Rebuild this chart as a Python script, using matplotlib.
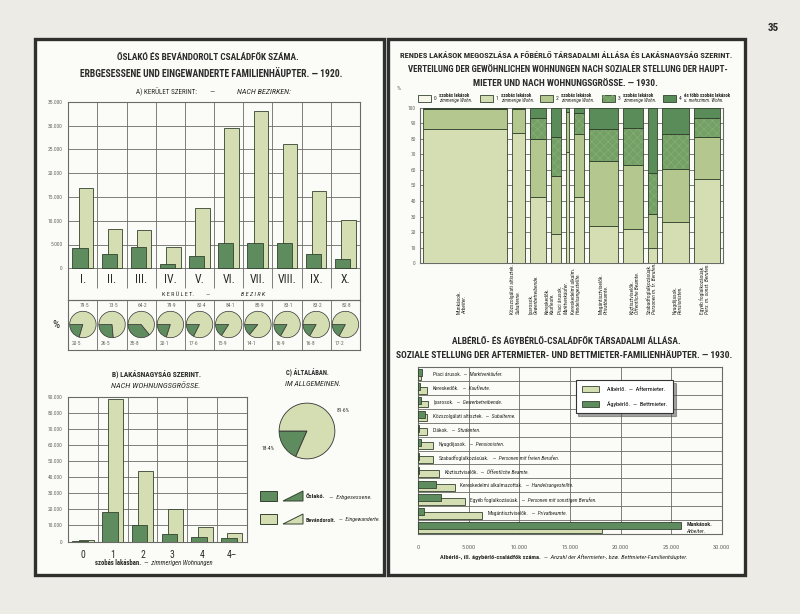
import matplotlib
matplotlib.use('Agg')
import matplotlib.pyplot as plt
import matplotlib.transforms as mtrans
from matplotlib import font_manager as fm
from matplotlib.patches import Rectangle, Polygon, Patch
import numpy as np

# ---------------- DATA ----------------
districts = ['I.', 'II.', 'III.', 'IV.', 'V.', 'VI.', 'VII.', 'VIII.', 'IX.', 'X.']
oslako_district = [4200, 3000, 4400, 1000, 2600, 5400, 5300, 5300, 3100, 2000]
bevand_district = [16800, 8300, 8000, 4400, 12700, 29400, 33000, 26200, 16200, 10200]
pct_bevand = [79.5, 73.5, 64.2, 79.9, 82.4, 84.1, 85.9, 83.1, 83.2, 82.8]
pct_oslako = [20.5, 26.5, 35.8, 20.1, 17.6, 15.9, 14.1, 16.9, 16.8, 17.2]
yticks_A = [0, 5000, 10000, 15000, 20000, 25000, 30000, 35000]

rooms = ['0', '1', '2', '3', '4', '4–']
oslako_rooms = [200, 18300, 10200, 4800, 2900, 2100]
bevand_rooms = [700, 88900, 44100, 20000, 9200, 5400]
yticks_B = [0, 10000, 20000, 30000, 40000, 50000, 60000, 70000, 80000, 90000]

total_pct = [18.4, 81.6]          # őslakó, bevándorolt

occ_hu = ['Munkások.', 'Közszolgálati altisztek.', 'Iparosok.', 'Kereskedők.', 'Piaci árusok.',
          'Kereskedelmi alkalm.', 'Magántisztviselők.', 'Köztisztviselők.', 'Szabadfoglalkozásúak.',
          'Nyugdíjasok.', 'Egyéb foglalkozásúak.']
occ_de = ['Arbeiter.', 'Subalterne.', 'Gewerbetreibende.', 'Kaufleute.', 'Marktverkäufer.',
          'Handelsangestellte.', 'Privatbeamte.', 'Öffentliche Beamte.', 'Personen m. fr. Berufen.',
          'Pensionisten.', 'Pers. m. sonst. Berufen.']
occ_share = [84, 13, 16, 10, 3, 10, 29, 20, 9, 27, 26]
room0 = [0.5, 0.3, 0.2, 0.2, 0.5, 0.2, 0.1, 0.1, 0.2, 0.3, 0.2]
room1 = [85.5, 83.2, 42.6, 18.6, 71.2, 42.6, 24.1, 22.2, 9.4, 26.5, 53.8]
room2 = [13.0, 15.5, 36.9, 37.5, 25.5, 40.1, 41.5, 41.1, 22.4, 33.8, 27.4]
room3 = [0.7, 0.7, 13.4, 25.1, 2.3, 13.5, 20.6, 23.8, 26.2, 22.4, 11.7]
room4 = [0.3, 0.3, 6.9, 18.6, 0.5, 3.6, 13.7, 12.8, 41.8, 17.0, 6.9]
room_num = ['0', '1', '2', '3', '4']
room_hu = ['szobás lakások', 'szobás lakások', 'szobás lakások', 'szobás lakások', 'és több szobás lakások']
room_de = ['zimmerige Wohn.', 'zimmerige Wohn.', 'zimmerige Wohn.', 'zimmerige Wohn.', 'u. mehrzimm. Wohn.']

sub_hu = ['Piaci árusok.', 'Kereskedők.', 'Iparosok.', 'Közszolgálati altisztek.', 'Diákok.',
          'Nyugdíjasok.', 'Szabadfoglalkozásúak.', 'Köztisztviselők.', 'Kereskedelmi alkalmazottak.',
          'Egyéb foglalkozásúak.', 'Magántisztviselők.', 'Munkások.']
sub_de = ['Marktverkäufer.', 'Kaufleute.', 'Gewerbetreibende.', 'Subalterne.', 'Studenten.',
          'Pensionisten.', 'Personen mit freien Berufen.', 'Öffentliche Beamte.', 'Handelsangestellte.',
          'Personen mit sonstigen Berufen.', 'Privatbeamte.', 'Arbeiter.']
alberlo = [300, 900, 930, 900, 900, 1500, 1500, 2030, 3600, 4600, 6330, 18150]
agyberlo = [400, 170, 230, 700, 100, 270, 70, 40, 1730, 2270, 570, 26000]
xticks_H = [0, 5000, 10000, 15000, 20000, 25000, 30000]

# ---------------- STYLE ----------------
installed = {f.name for f in fm.fontManager.ttflist}
narrow_pref = ['Liberation Sans Narrow', 'Roboto Condensed', 'Noto Sans Condensed',
               'Open Sans Condensed', 'DejaVu Sans Condensed', 'Arial Narrow']
narrow = [n for n in narrow_pref if n in installed]
cond_dejavu = any('condensed' in str(f.stretch).lower() and f.name == 'DejaVu Sans'
                  for f in fm.fontManager.ttflist)
plt.rcParams['font.family'] = narrow[:1] + ['DejaVu Sans']
if not narrow and cond_dejavu:
    plt.rcParams['font.stretch'] = 'condensed'
plt.rcParams['hatch.linewidth'] = 0.35
W, H = 800, 614
PAGE = '#ecebe6'
PAPER = '#fbfbf7'
FRAME = '#2f302e'
LIGHT = '#d4deb2'
DARK = '#5f8c5f'
EDGE = '#33432f'
GRID = '#6a6a66'
TXT = '#2a2a2a'
TICK = '#666660'
ROOM_COL = ['#f6f6ea', '#d4deb2', '#b3c78f', '#74a066', '#5a8c5a']

SMALL = []     # small annotation texts, scaled together later
FITS = []      # (texts, target width in px)


def fmt(v):
    return f"{v:,}".replace(',', '.')


def fmtp(v):
    return f"{v:.1f}".replace('.', '·')


fig = plt.figure(figsize=(8, 6.14), dpi=100)
fig.patch.set_facecolor(PAGE)


def px_axes(x0, y0, x1, y1, z=1):
    a = fig.add_axes([x0 / W, 1 - y1 / H, (x1 - x0) / W, (y1 - y0) / H], zorder=z)
    a.patch.set_alpha(0)
    return a


bg = px_axes(0, 0, W, H, z=0)
bg.set_xlim(0, W)
bg.set_ylim(H, 0)
bg.axis('off')

for (x0, y0, x1, y1) in [(34.5, 38.5, 383.5, 574.5), (388, 38.5, 745, 574.5)]:
    bg.add_patch(Rectangle((x0, y0), x1 - x0, y1 - y0, facecolor=PAPER, edgecolor=FRAME, lw=2.4))
bg.text(773, 28, '35', ha='center', va='center', fontsize=8, fontweight='bold', color=TXT)


def style_spines(ax):
    for s in ax.spines.values():
        s.set_color(GRID)
        s.set_linewidth(0.8)


def T(x, y, s, size, ax=None, small=True, fit=None, **kw):
    ax = ax if ax is not None else bg
    kw.setdefault('ha', 'center')
    kw.setdefault('va', 'center')
    kw.setdefault('color', TXT)
    t = ax.text(x, y, s, fontsize=size, clip_on=False, **kw)
    if fit is not None:
        FITS.append(([t], fit))
    elif small:
        SMALL.append(t)
    return t


def chain(ax, x, y, s1, s2, size, w1='normal', fit=None, transform=None):
    tr = transform if transform is not None else ax.transData
    t1 = ax.text(x, y, s1, fontsize=size, fontweight=w1, ha='left', va='center', color=TXT,
                 transform=tr, clip_on=False)
    t2 = ax.annotate(s2, xy=(1, 0.5), xycoords=t1, fontsize=size, style='italic', ha='left',
                     va='center', color=TXT, annotation_clip=False)
    if fit is not None:
        FITS.append(([t1, t2], fit))
    else:
        SMALL.extend([t1, t2])
    return t1, t2


# ---------------- LEFT TITLES ----------------
T(208, 58, 'ŐSLAKÓ ÉS BEVÁNDOROLT CSALÁDFŐK SZÁMA.', 7, fontweight='bold', fit=183)
T(211, 74, 'ERBGESESSENE UND EINGEWANDERTE FAMILIENHÄUPTER. — 1920.', 7, fontweight='bold', fit=263)
T(197, 92, 'A) KERÜLET SZERINT:', 5.5, ha='right', fit=62)
T(212, 92, '—', 5.5, small=False)
T(237, 92, 'NACH BEZIRKEN:', 5, ha='left', style='italic', fit=55)

# ---------------- CHART A ----------------
a_top, a_zero, a_bot = 101.7, 268.3, 300
axA = px_axes(68.3, a_top, 360, a_bot)
ext = -yticks_A[-1] * (a_bot - a_zero) / (a_zero - a_top)
axA.set_xlim(-0.5, len(districts) - 0.5)
axA.set_ylim(ext, yticks_A[-1])
xA = np.arange(len(districts))
axA.bar(xA + 0.1, bevand_district, width=0.5, color=LIGHT, edgecolor=EDGE, lw=0.6, zorder=3)
axA.bar(xA - 0.1, oslako_district, width=0.52, color=DARK, edgecolor=EDGE, lw=0.6, zorder=4)
axA.set_yticks(yticks_A)
axA.set_yticklabels([fmt(v) for v in yticks_A])
axA.tick_params(axis='y', length=0, labelsize=4, labelcolor=TICK, pad=4)
axA.set_xticks([])
for v in yticks_A:
    axA.axhline(v, color=GRID, lw=0.6, zorder=1)
axA.vlines(xA[:-1] + 0.5, ext * 0.62, yticks_A[-1], color=GRID, lw=0.6, zorder=1)
for i, d in enumerate(districts):
    T(i, ext * 0.36, d, 8.5, ax=axA, small=False)
style_spines(axA)
T(178, 294.5, 'K E R Ü L E T.', 4.4, small=False)
T(208, 294.5, '—', 4.4, small=False)
T(253, 294.5, 'B E Z I R K', 4.4, style='italic', small=False)

# pie table
axP = px_axes(68.3, 300, 360, 349.5)
axP.set_xlim(0, len(districts))
axP.set_ylim(1, 0)
axP.set_xticks([])
axP.set_yticks([])
axP.vlines(np.arange(1, len(districts)), 0, 1, color=GRID, lw=0.6)
style_spines(axP)
for i in range(len(districts)):
    T(i + 0.55, 0.11, fmtp(pct_bevand[i]), 4, ax=axP, small=False, color=TICK)
    T(i + 0.12, 0.87, fmtp(pct_oslako[i]), 4, ax=axP, small=False, color=TICK, ha='left')
T(56, 325, '%', 8, small=False)
cw = (360 - 68.3) / len(districts)
for i in range(len(districts)):
    cx, cy, r = 68.3 + cw * (i + 0.5), 324.5, 14
    ap = px_axes(cx - r, cy - r, cx + r, cy + r, z=2)
    ap.pie([pct_oslako[i], pct_bevand[i]], colors=[DARK, LIGHT], startangle=180,
           counterclock=True, wedgeprops=dict(edgecolor='#333', linewidth=0.5))
    ap.set_xlim(-1.06, 1.06)
    ap.set_ylim(-1.06, 1.06)

# ---------------- CHART B ----------------
T(157, 375, 'B) LAKÁSNAGYSÁG SZERINT.', 6.5, fontweight='bold', fit=89)
T(156, 386, 'NACH WOHNUNGSGRÖSSE.', 5.5, style='italic', fit=90)
axB = px_axes(68.3, 397, 246.7, 541.5)
xB = np.arange(len(rooms))
axB.set_xlim(-0.5, len(rooms) - 0.5)
axB.set_ylim(0, yticks_B[-1])
axB.bar(xB + 0.1, bevand_rooms, width=0.5, color=LIGHT, edgecolor=EDGE, lw=0.6, zorder=3)
axB.bar(xB - 0.1, oslako_rooms, width=0.52, color=DARK, edgecolor=EDGE, lw=0.6, zorder=4)
for v in yticks_B:
    axB.axhline(v, color=GRID, lw=0.6, zorder=1)
axB.vlines(xB[:-1] + 0.5, 0, yticks_B[-1], color=GRID, lw=0.6, zorder=1)
axB.set_yticks(yticks_B)
axB.set_yticklabels([fmt(v) for v in yticks_B])
axB.tick_params(axis='y', length=0, labelsize=4, labelcolor=TICK, pad=4)
axB.set_xticks(xB)
axB.set_xticklabels(rooms)
axB.tick_params(axis='x', length=0, labelsize=7, labelcolor=TXT, pad=6)
style_spines(axB)
chain(bg, 95, 563, 'szobás lakásban.', '  —  zimmerigen Wohnungen', 4, w1='bold', fit=117)

# ---------------- CHART C ----------------
T(307, 373, 'C) ÁLTALÁBAN.', 6.5, fontweight='bold', fit=43)
T(313, 384, 'IM ALLGEMEINEN.', 5.5, style='italic', fit=56)
axC = px_axes(278, 402, 336, 460, z=2)
axC.pie(total_pct, colors=[DARK, LIGHT], startangle=180, counterclock=True,
        wedgeprops=dict(edgecolor='#333', linewidth=0.6))
axC.set_xlim(-1.04, 1.04)
axC.set_ylim(-1.04, 1.04)
T(343, 410, fmtp(total_pct[1]) + '%', 4, small=False)
T(268, 449, fmtp(total_pct[0]) + '%', 4, small=False)
for yy, col, hu, de, tw in [(496, DARK, 'Őslakó.', '  —  Erbgesessene.', 64),
                            (519, LIGHT, 'Bevándorolt.', '  —  Eingewanderte.', 74)]:
    bg.add_patch(Rectangle((260, yy - 5), 17, 10, facecolor=col, edgecolor=EDGE, lw=0.7))
    bg.add_patch(Polygon([(283, yy + 5), (303, yy - 5), (303, yy + 5)], closed=True,
                         facecolor=col, edgecolor=EDGE, lw=0.7))
    chain(bg, 306, yy + 1, hu, de, 4, w1='bold', fit=tw)

# ---------------- RIGHT TOP TITLES ----------------
T(566, 55, 'RENDES LAKÁSOK MEGOSZLÁSA A FŐBÉRLŐ TÁRSADALMI ÁLLÁSA ÉS LAKÁSNAGYSÁG SZERINT.',
  6.3, fontweight='bold', fit=333)
T(568, 69, 'VERTEILUNG DER GEWÖHNLICHEN WOHNUNGEN NACH SOZIALER STELLUNG DER HAUPT-',
  6.3, fontweight='bold', fit=323)
T(565, 83, 'MIETER UND NACH WOHNUNGSGRÖSSE. — 1930.', 6.3, fontweight='bold', fit=185)

# ---------------- STACKED CHART ----------------
axS = px_axes(420, 107.7, 723, 263.3)
gap, edge = 5, 3
lefts = []
pos = edge
for w in occ_share:
    lefts.append(pos)
    pos += w + gap
total_w = pos - gap + edge
axS.set_xlim(0, total_w)
axS.set_ylim(0, 100)
cats = [room0, room1, room2, room3, room4]
bottom = np.zeros(len(occ_share))
for k, vals in enumerate(cats):
    if k == 3:
        axS.bar(lefts, vals, width=occ_share, bottom=bottom, align='edge', color=ROOM_COL[k],
                edgecolor='#8db27c', lw=0, hatch='xxxx', zorder=3)
        axS.bar(lefts, vals, width=occ_share, bottom=bottom, align='edge', facecolor='none',
                edgecolor=EDGE, lw=0.6, zorder=4)
    else:
        axS.bar(lefts, vals, width=occ_share, bottom=bottom, align='edge', color=ROOM_COL[k],
                edgecolor=EDGE, lw=0.6, zorder=3)
    bottom = bottom + np.array(vals)
axS.set_yticks(range(0, 101, 10))
axS.tick_params(axis='y', length=0, labelsize=4, labelcolor=TICK, pad=3)
axS.set_xticks([])
axS.grid(axis='y', color=GRID, lw=0.6)
axS.set_axisbelow(True)
style_spines(axS)
axS.spines['top'].set_visible(False)
T(399, 89, '%', 4.5, small=False, color=TICK)

# stacked legend
leg_x = [418, 480, 540, 602, 663]
for k in range(5):
    x0 = leg_x[k]
    bg.add_patch(Rectangle((x0, 95), 13, 6.5, facecolor=ROOM_COL[k], edgecolor=EDGE, lw=0.6))
    if k == 3:
        bg.add_patch(Rectangle((x0, 95), 13, 6.5, facecolor='none', edgecolor='#8db27c', lw=0,
                               hatch='xxxx'))
    T(x0 + 16, 98.5, room_num[k], 4, small=False, ha='left')
    T(x0 + 21, 95.5, room_hu[k], 3.6, ha='left', fontweight='bold')
    T(x0 + 21, 100.8, room_de[k], 3.6, ha='left', style='italic')

# rotated occupation labels
blend = mtrans.blended_transform_factory(axS.transData, bg.transData)
nudge = [-3, -3, -4, -6, -4, -3, 0, 2, -1, 2, -2]
for i in range(len(occ_hu)):
    cx = lefts[i] + occ_share[i] / 2 + nudge[i]
    T(cx - 2.7, 314, occ_hu[i], 4.0, ax=axS, rotation=90, va='bottom', transform=blend, small=False)
    T(cx + 2.7, 314, occ_de[i], 4.0, ax=axS, rotation=90, va='bottom', style='italic',
      transform=blend, small=False)

# ---------------- RIGHT BOTTOM TITLES ----------------
T(566, 342, 'ALBÉRLŐ- ÉS ÁGYBÉRLŐ-CSALÁDFŐK TÁRSADALMI ÁLLÁSA.', 6.5, fontweight='bold', fit=228)
T(564, 355.5, 'SOZIALE STELLUNG DER AFTERMIETER- UND BETTMIETER-FAMILIENHÄUPTER. — 1930.',
  6.5, fontweight='bold', fit=337)

# ---------------- HORIZONTAL BARS ----------------
axH = px_axes(418.3, 367, 721.7, 534)
yH = np.arange(len(sub_hu))
axH.set_xlim(0, xticks_H[-1])
axH.set_ylim(len(sub_hu) - 0.5, -0.5)
axH.barh(yH + 0.16, alberlo, height=0.5, color=LIGHT, edgecolor=EDGE, lw=0.6, zorder=3)
axH.barh(yH - 0.09, agyberlo, height=0.5, color=DARK, edgecolor=EDGE, lw=0.6, zorder=4)
axH.vlines(xticks_H[1:-1], -0.5, len(sub_hu) - 0.5, color=GRID, lw=0.6, zorder=1)
axH.hlines(yH[:-1] + 0.5, 0, xticks_H[-1], color=GRID, lw=0.6, zorder=1)
axH.set_xticks(xticks_H)
axH.set_xticklabels([fmt(v) for v in xticks_H])
axH.tick_params(axis='x', length=0, labelsize=4.5, labelcolor=TICK, pad=8)
axH.set_yticks([])
style_spines(axH)
ref_pair = None
for i in range(len(sub_hu) - 1):
    x0 = max(alberlo[i], agyberlo[i], 900) + 550
    pair = chain(axH, x0, i + 0.05, sub_hu[i], '  —  ' + sub_de[i], 4)
    if i == 0:
        ref_pair = pair
last = len(sub_hu) - 1
xl = max(alberlo[last], agyberlo[last]) + 500
T(xl, last - 0.15, sub_hu[last], 4.2, ax=axH, ha='left', fontweight='bold')
T(xl, last + 0.3, sub_de[last], 4.2, ax=axH, ha='left', style='italic')
handles = [Patch(facecolor=LIGHT, edgecolor=EDGE, lw=0.6), Patch(facecolor=DARK, edgecolor=EDGE, lw=0.6)]
leg = axH.legend(handles, ['Albérlő.  —  Aftermieter.', 'Ágybérlő.  —  Bettmieter.'],
                 loc='upper left', bbox_to_anchor=(0.508, 0.942), fontsize=4.5, frameon=True,
                 fancybox=False, shadow=True, handlelength=2.8, handleheight=1.2,
                 labelspacing=1.3, borderpad=1.0, handletextpad=1.2)
leg.get_frame().set_edgecolor('#333')
leg.get_frame().set_linewidth(0.8)
leg.set_zorder(6)
chain(bg, 440, 557, 'Albérlő-, ill. ágybérlő-családfők száma.',
      '  —  Anzahl der Aftermieter-, bzw. Bettmieter-Familienhäupter.', 4, w1='bold', fit=245)

# ---------------- FIT TEXT WIDTHS TO THE REFERENCE ----------------
fig.canvas.draw()
rend = fig.canvas.get_renderer()


def width_of(texts):
    bbs = [t.get_window_extent(rend) for t in texts]
    return max(b.x1 for b in bbs) - min(b.x0 for b in bbs)


for texts, target in FITS:
    f = target / width_of(texts)
    for t in texts:
        t.set_fontsize(t.get_fontsize() * f)
# global factor for small texts from one reference label (about 66 px wide)
f_small = min(1.0, 70 / width_of(list(ref_pair)))
for t in SMALL:
    t.set_fontsize(t.get_fontsize() * f_small)

fig.savefig('out.png', dpi=100, facecolor=PAGE)
